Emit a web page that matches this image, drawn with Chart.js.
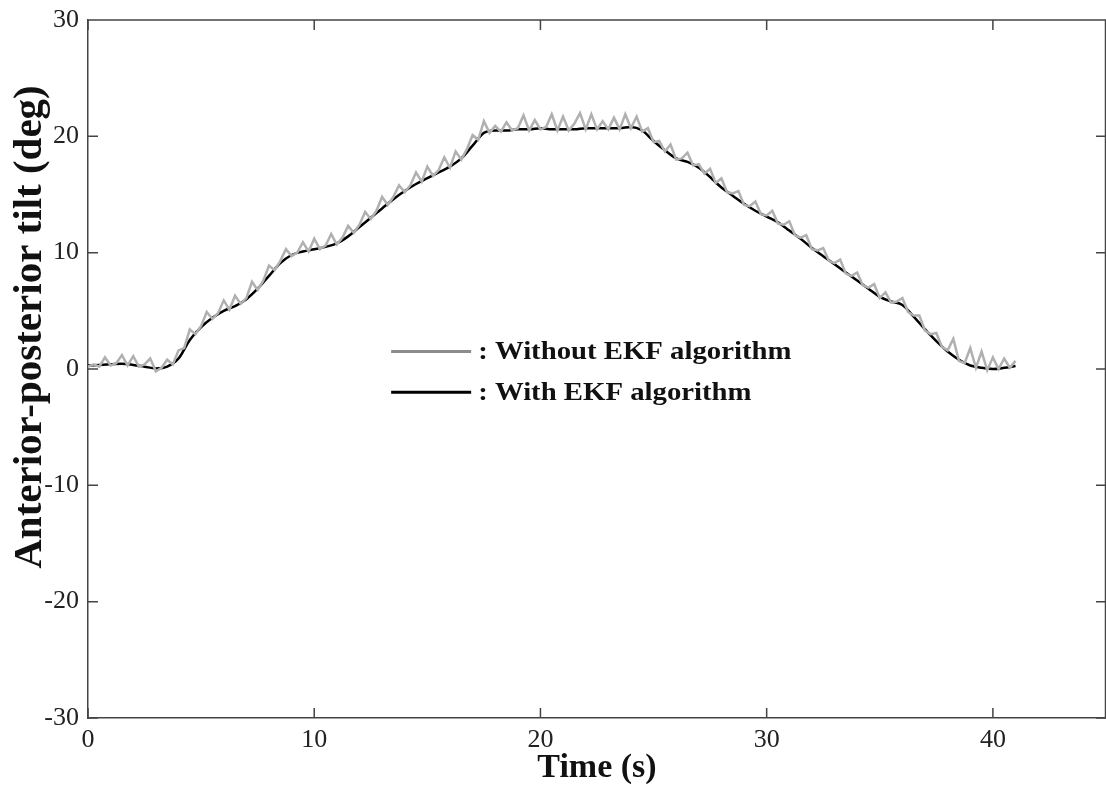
<!DOCTYPE html>
<html>
<head>
<meta charset="utf-8">
<script src="https://cdn.jsdelivr.net/npm/chart.js@4/dist/chart.umd.min.js"></script>
<style>
  html, body { margin: 0; padding: 0; background: #fff; }
  #wrap { width: 1106px; height: 787px; }
</style>
</head>
<body>
<div id="wrap"><canvas id="tiltChart" width="1106" height="787"></canvas></div>
<script>
// time axis for the raw (grey) signal: 0 .. 41 s, every 0.25 s
const rawTime = [
  0, 0.25, 0.5, 0.75, 1, 1.25, 1.5, 1.75, 2, 2.25, 2.5, 2.75, 3, 3.25, 3.5, 3.75,
  4, 4.25, 4.5, 4.75, 5, 5.25, 5.5, 5.75, 6, 6.25, 6.5, 6.75, 7, 7.25, 7.5, 7.75,
  8, 8.25, 8.5, 8.75, 9, 9.25, 9.5, 9.75, 10, 10.25, 10.5, 10.75, 11, 11.25, 11.5, 11.75,
  12, 12.25, 12.5, 12.75, 13, 13.25, 13.5, 13.75, 14, 14.25, 14.5, 14.75, 15, 15.25, 15.5, 15.75,
  16, 16.25, 16.5, 16.75, 17, 17.25, 17.5, 17.75, 18, 18.25, 18.5, 18.75, 19, 19.25, 19.5, 19.75,
  20, 20.25, 20.5, 20.75, 21, 21.25, 21.5, 21.75, 22, 22.25, 22.5, 22.75, 23, 23.25, 23.5, 23.75,
  24, 24.25, 24.5, 24.75, 25, 25.25, 25.5, 25.75, 26, 26.25, 26.5, 26.75, 27, 27.25, 27.5, 27.75,
  28, 28.25, 28.5, 28.75, 29, 29.25, 29.5, 29.75, 30, 30.25, 30.5, 30.75, 31, 31.25, 31.5, 31.75,
  32, 32.25, 32.5, 32.75, 33, 33.25, 33.5, 33.75, 34, 34.25, 34.5, 34.75, 35, 35.25, 35.5, 35.75,
  36, 36.25, 36.5, 36.75, 37, 37.25, 37.5, 37.75, 38, 38.25, 38.5, 38.75, 39, 39.25, 39.5, 39.75,
  40, 40.25, 40.5, 40.75, 41
];
const rawTilt = [
  0.2, 0.4, 0.2, 1.0, 0.3, 0.5, 1.2, 0.3, 1.1, 0.2, 0.4, 0.9, -0.2, 0.1, 0.8, 0.4,
  1.6, 1.8, 3.4, 3.0, 3.7, 4.9, 4.3, 4.8, 5.9, 5.1, 6.3, 5.6, 6.1, 7.5, 6.8, 7.6,
  8.9, 8.5, 9.3, 10.3, 9.7, 10.0, 10.9, 10.1, 11.2, 10.3, 10.6, 11.6, 10.7, 11.3, 12.3, 11.7,
  12.4, 13.5, 12.9, 13.6, 14.8, 14.1, 14.8, 15.8, 15.2, 15.8, 16.9, 16.1, 17.4, 16.6, 17.1, 18.2,
  17.3, 18.7, 18.0, 18.9, 20.1, 19.7, 21.3, 20.3, 20.9, 20.4, 21.2, 20.5, 20.7, 21.8, 20.5, 21.4,
  20.6, 20.8, 21.9, 20.5, 21.7, 20.5, 21.1, 22.0, 20.6, 21.9, 20.6, 21.3, 20.6, 21.6, 20.6, 21.9,
  20.7, 21.7, 20.4, 20.7, 19.5, 19.6, 18.7, 19.3, 18.0, 18.1, 18.6, 17.5, 17.6, 16.8, 17.2, 16.0,
  16.4, 15.2, 15.1, 15.3, 14.1, 14.0, 14.4, 13.3, 13.2, 13.6, 12.5, 12.4, 12.7, 11.5, 11.3, 11.5,
  10.3, 10.2, 10.4, 9.3, 9.1, 9.4, 8.2, 8.0, 8.3, 7.2, 7.0, 7.3, 6.1, 6.6, 5.7, 5.8,
  6.1, 4.9, 4.6, 4.6, 3.3, 3.0, 3.1, 1.9, 1.6, 2.6, 0.7, 0.5, 1.8, 0.1, 1.5, -0.1,
  1.0, 0.0, 0.9, 0.1, 0.7
];

// filtered (black) signal, every 0.5 s
const ekfTime = [
  0, 0.5, 1, 1.5, 2, 2.5, 3, 3.5, 4, 4.5, 5, 5.5, 6, 6.5, 7, 7.5, 8, 8.5, 9, 9.5,
  10, 10.5, 11, 11.5, 12, 12.5, 13, 13.5, 14, 14.5, 15, 15.5, 16, 16.5, 17, 17.5, 18, 18.5, 19, 19.5,
  20, 20.5, 21, 21.5, 22, 22.5, 23, 23.5, 24, 24.5, 25, 25.5, 26, 26.5, 27, 27.5, 28, 28.5, 29, 29.5,
  30, 30.5, 31, 31.5, 32, 32.5, 33, 33.5, 34, 34.5, 35, 35.5, 36, 36.5, 37, 37.5, 38, 38.5, 39, 39.5,
  40, 40.5, 41
];
const ekfTilt = [
  0.3, 0.35, 0.4, 0.45, 0.35, 0.2, 0.05, 0.2, 0.9, 2.5, 3.6, 4.4, 5.0, 5.4, 6.0, 6.9, 8.0, 9.1, 9.8, 10.1,
  10.3, 10.5, 10.8, 11.4, 12.2, 13.0, 13.8, 14.6, 15.3, 15.9, 16.4, 16.9, 17.4, 18.1, 19.2, 20.3, 20.5, 20.5, 20.6, 20.6,
  20.7, 20.6, 20.6, 20.6, 20.7, 20.7, 20.7, 20.7, 20.8, 20.5, 19.6, 18.8, 18.1, 17.8, 17.3, 16.5, 15.6, 14.9, 14.2, 13.6,
  13.1, 12.6, 11.9, 11.2, 10.4, 9.7, 9.0, 8.3, 7.6, 6.9, 6.2, 5.8, 5.5, 4.5, 3.4, 2.4, 1.5, 0.8, 0.3, 0.1,
  0.0, 0.1, 0.25
];

const xTicks = [0, 10, 20, 30, 40];
const yTicks = [-30, -20, -10, 0, 10, 20, 30];
const legendLabels = [': Without EKF algorithm', ': With EKF algorithm'];
const yTitle = 'Anterior-posterior tilt (deg)';

const SERIF = '"Liberation Serif", "Times New Roman", serif';
const AXIS = '#444';

// inward tick marks, top/right frame, legend and y title
const frameTicks = {
  id: 'frameTicks',
  afterDraw(chart) {
    const { ctx, chartArea: a, scales: { x, y } } = chart;
    ctx.save();
    ctx.strokeStyle = AXIS;
    ctx.lineWidth = 1.5;
    ctx.beginPath();
    ctx.moveTo(a.left, a.top); ctx.lineTo(a.right, a.top);
    ctx.moveTo(a.right - 0.5, a.top); ctx.lineTo(a.right - 0.5, a.bottom);
    xTicks.forEach(v => {
      const px = x.getPixelForValue(v);
      ctx.moveTo(px, a.bottom); ctx.lineTo(px, a.bottom - 10);
      ctx.moveTo(px, a.top); ctx.lineTo(px, a.top + 10);
    });
    yTicks.forEach(v => {
      const py = y.getPixelForValue(v);
      ctx.moveTo(a.left, py); ctx.lineTo(a.left + 10, py);
      ctx.moveTo(a.right, py); ctx.lineTo(a.right - 10, py);
    });
    ctx.stroke();

    // legend in the middle of the plot
    const rows = [
      { color: '#8c8c8c', y: y.getPixelForValue(1.5) },
      { color: '#000', y: y.getPixelForValue(-2.0) },
    ];
    const lx = x.getPixelForValue(13.4);
    ctx.textBaseline = 'middle';
    ctx.fillStyle = '#111';
    rows.forEach((r, i) => {
      ctx.strokeStyle = r.color;
      ctx.lineWidth = 3;
      ctx.beginPath();
      ctx.moveTo(lx, r.y); ctx.lineTo(lx + 80, r.y);
      ctx.stroke();
      ctx.save();
      ctx.translate(lx + 87, r.y + 1);
      ctx.scale(1.15, 1);
      ctx.font = 'bold 25px ' + SERIF;
      ctx.fillText(legendLabels[i], 0, 0);
      ctx.restore();
    });

    // y axis title
    ctx.save();
    ctx.translate(30, 327);
    ctx.rotate(-Math.PI / 2);
    ctx.font = 'bold 41px ' + SERIF;
    ctx.textAlign = 'center';
    ctx.textBaseline = 'middle';
    ctx.fillStyle = '#111';
    ctx.fillText(yTitle, 0, 0);
    ctx.restore();
    ctx.restore();
  },
};

new Chart(document.getElementById('tiltChart'), {
  type: 'line',
  data: {
    datasets: [
      {
        label: 'Without EKF',
        data: rawTime.map((t, i) => ({ x: t, y: rawTilt[i] })),
        borderColor: '#b0b0b0',
        borderWidth: 2.5,
        pointRadius: 0,
        tension: 0,
      },
      {
        label: 'With EKF',
        data: ekfTime.map((t, i) => ({ x: t, y: ekfTilt[i] })),
        borderColor: '#000',
        borderWidth: 2.5,
        pointRadius: 0,
        cubicInterpolationMode: 'monotone',
      },
    ],
  },
  options: {
    responsive: false,
    animation: false,
    layout: { padding: { top: 20, right: 0, left: 0, bottom: 0 } },
    plugins: { legend: { display: false }, tooltip: { enabled: false } },
    scales: {
      x: {
        type: 'linear',
        min: 0,
        max: 45,
        afterBuildTicks: s => { s.ticks = xTicks.map(v => ({ value: v })); },
        afterFit: s => { s.height = 69; },
        grid: { display: false, drawTicks: false },
        border: { display: true, color: AXIS, width: 1.5 },
        ticks: { font: { family: SERIF, size: 26 }, color: '#222', padding: 7, maxRotation: 0 },
        title: {
          display: true,
          text: 'Time (s)',
          font: { family: SERIF, size: 34, weight: 'bold' },
          color: '#111',
          padding: { top: 0, bottom: -2 },
        },
      },
      y: {
        type: 'linear',
        min: -30,
        max: 30,
        afterBuildTicks: s => { s.ticks = yTicks.map(v => ({ value: v })); },
        afterFit: s => { s.width = 88; s.paddingTop = 0; s.paddingBottom = 0; },
        grid: { display: false, drawTicks: false },
        border: { display: true, color: AXIS, width: 1.5 },
        ticks: { font: { family: SERIF, size: 26, lineHeight: 1 }, color: '#222', padding: 9 },
      },
    },
  },
  plugins: [frameTicks],
});
</script>
</body>
</html>
